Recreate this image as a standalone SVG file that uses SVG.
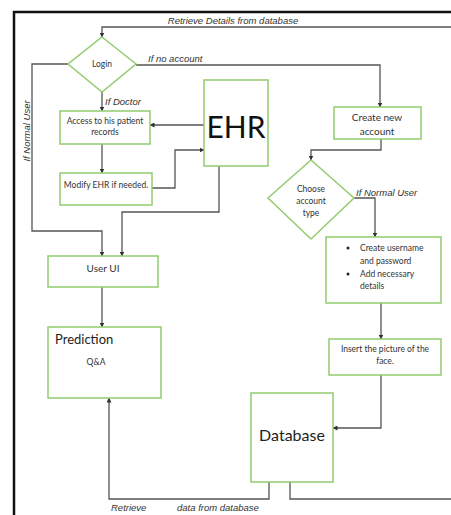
<svg xmlns="http://www.w3.org/2000/svg" width="451" height="515" viewBox="0 0 451 515">
<defs>
<marker id="ah" viewBox="0 0 10 10" refX="9" refY="5" markerWidth="5" markerHeight="5" orient="auto" markerUnits="userSpaceOnUse">
<path d="M0,0 L10,5 L0,10 z" fill="#333"/>
</marker>
<style>
.box{fill:#fff;stroke:#92cc6f;stroke-width:1.5}
.ln{fill:none;stroke:#555;stroke-width:1.3}
.ar{fill:none;stroke:#555;stroke-width:1.3;marker-end:url(#ah)}
.t{font-family:Lato,"Liberation Sans",sans-serif;font-size:8.5px;fill:#333;text-anchor:middle}
.s{text-anchor:start}
.lbl{font-family:"Liberation Sans",Arial,sans-serif;font-style:italic;font-size:9.5px;fill:#333}
</style>
</defs>
<rect width="451" height="515" fill="#fff"/>
<path d="M14,515 V12 H451" fill="none" stroke="#111" stroke-width="2.5"/>

<g id="connectors">
<path class="ar" d="M451,27 H102 V37"/>
<path class="ar" d="M136,65 H380 V107"/>
<path class="ar" d="M68,64 H32 V231 H102 V256"/>
<path class="ar" d="M102,92 V111"/>
<path class="ar" d="M204,125 H150"/>
<path class="ar" d="M102,144 V173"/>
<path class="ar" d="M152,188 H175 V150 H204"/>
<path class="ar" d="M219,166 V212 H122 V256"/>
<path class="ar" d="M102,287 V327"/>
<path class="ar" d="M381,139 V150 H311 V160"/>
<path class="ar" d="M354,198 H375 V237"/>
<path class="ar" d="M381,303 V339"/>
<path class="ar" d="M381,375 V428 H333"/>
<path class="ar" d="M269,482 V499 H109 V398"/>
<path class="ln" d="M290,482 V499 H451"/>
</g>

<g id="labels">
<text class="lbl" x="233" y="24" text-anchor="middle">Retrieve Details from database</text>
<text class="lbl" x="148" y="62">If no account</text>
<text class="lbl" x="105" y="105">If Doctor</text>
<text class="lbl" transform="translate(30,131) rotate(-90)" text-anchor="middle">If Normal User</text>
<text class="lbl" x="356" y="196">If Normal User</text>
<text class="lbl" x="111" y="511">Retrieve</text>
<text class="lbl" x="177" y="511">data from database</text>
</g>

<g id="login">
<polygon class="box" points="102,37 136,64 102,92 68,64"/>
<text class="t" x="102" y="67">Login</text>
</g>
<g id="access">
<rect class="box" x="60" y="111" width="90" height="33"/>
<text class="t" x="105" y="124">Access to his patient</text>
<text class="t" x="105" y="135">records</text>
</g>
<g id="ehr">
<rect class="box" x="204" y="80" width="64" height="86"/>
<text x="236" y="138" text-anchor="middle" font-family="Lato,'Liberation Sans',sans-serif" font-size="30" fill="#111">EHR</text>
</g>
<g id="modify">
<rect class="box" x="60" y="173" width="92" height="32"/>
<text class="t" x="106" y="188">Modify EHR if needed.</text>
</g>
<g id="userui">
<rect class="box" x="48" y="256" width="110" height="31"/>
<text class="t" x="103" y="272" style="font-size:10px">User UI</text>
</g>
<g id="prediction">
<rect class="box" x="48" y="327" width="113" height="71"/>
<text x="55" y="344" font-family="Lato,'Liberation Sans',sans-serif" font-size="13" fill="#222">Prediction</text>
<text class="t" x="96" y="365">Q&amp;A</text>
</g>
<g id="create">
<rect class="box" x="334" y="107" width="87" height="32"/>
<text class="t" x="377" y="121" style="font-size:10px">Create new</text>
<text class="t" x="377" y="135" style="font-size:10px">account</text>
</g>
<g id="choose">
<polygon class="box" points="311,160 354,198 311,239 268,198"/>
<text class="t" x="311" y="192">Choose</text>
<text class="t" x="311" y="204">account</text>
<text class="t" x="311" y="216">type</text>
</g>
<g id="username">
<rect class="box" x="326" y="237" width="115" height="66"/>
<circle cx="348" cy="248" r="1.5" fill="#222"/>
<text class="t s" x="360" y="251">Create username</text>
<text class="t s" x="360" y="264">and password</text>
<circle cx="348" cy="274" r="1.5" fill="#222"/>
<text class="t s" x="360" y="277">Add necessary</text>
<text class="t s" x="360" y="289">details</text>
</g>
<g id="insert">
<rect class="box" x="329" y="339" width="112" height="36"/>
<text class="t" x="385" y="352">Insert the picture of the</text>
<text class="t" x="385" y="364">face.</text>
</g>
<g id="database">
<rect class="box" x="251" y="393" width="82" height="89"/>
<text x="292" y="441" text-anchor="middle" font-family="Lato,'Liberation Sans',sans-serif" font-size="16" fill="#222">Database</text>
</g>
</svg>
